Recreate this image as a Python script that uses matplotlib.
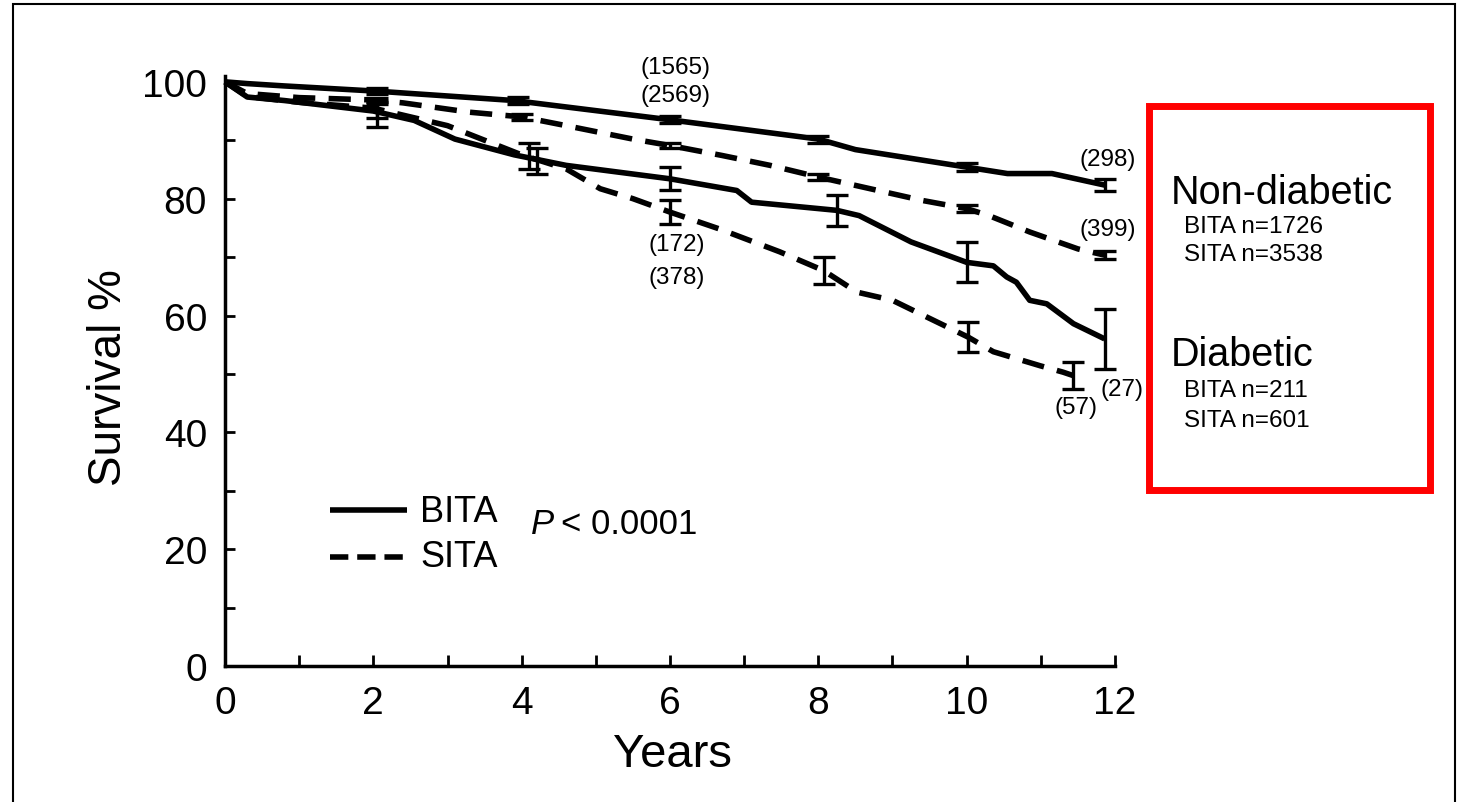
import matplotlib
matplotlib.use("Agg")
import matplotlib.pyplot as plt
from matplotlib.patches import Rectangle
from matplotlib.lines import Line2D

plt.rcParams['font.family'] = ['Liberation Sans', 'DejaVu Sans']

# ---------------- data ----------------
nd_bita_x = [0, 0.3, 0.8, 2.05, 3.9, 6.0, 8.0, 8.5, 10.0, 10.55, 11.15, 11.87]
nd_bita_y = [100, 99.7, 99.3, 98.4, 96.8, 93.5, 90.2, 88.4, 85.4, 84.3, 84.3, 82.3]

nd_sita_x = [0, 0.3, 1.0, 2.0, 2.4, 3.3, 4.0, 4.6, 5.5, 6.0, 6.7, 7.35, 8.0, 8.7, 9.4, 10.0, 10.3, 10.85, 11.5, 11.87]
nd_sita_y = [100, 98.0, 97.3, 96.9, 96.4, 94.8, 94.0, 92.5, 90.2, 89.1, 87.4, 85.7, 83.7, 81.7, 79.7, 78.3, 77.1, 74.3, 71.4, 70.3]

d_bita_x = [0, 0.3, 0.8, 2.0, 2.55, 3.1, 3.9, 4.6, 6.0, 6.9, 7.1, 8.25, 8.55, 9.25, 10.0, 10.36, 10.54, 10.67, 10.85, 11.08, 11.44, 11.86]
d_bita_y = [100, 97.4, 96.8, 95.0, 93.4, 90.2, 87.5, 85.7, 83.4, 81.4, 79.4, 78.0, 77.1, 72.6, 69.1, 68.5, 66.6, 65.7, 62.6, 62.0, 58.6, 56.0]

d_sita_x = [0, 0.3, 1.0, 2.0, 3.0, 4.0, 4.6, 5.06, 5.5, 6.0, 6.67, 7.48, 8.07, 8.52, 9.0, 9.42, 10.02, 10.36, 10.99, 11.3, 11.44]
d_sita_y = [100, 97.5, 96.5, 95.5, 92.5, 87.5, 85.1, 81.7, 80.0, 77.7, 74.8, 70.9, 67.7, 64.0, 62.6, 60.0, 56.3, 53.8, 51.4, 50.3, 49.7]

# error bars
nd_bita_ex = [2.05, 3.95, 6.0, 8.0, 10.0, 11.87]
nd_bita_ey = [98.4, 96.8, 93.5, 90.2, 85.4, 82.3]
nd_bita_ee = [0.5, 0.6, 0.6, 0.6, 0.7, 1.0]

nd_sita_ex = [2.05, 4.0, 6.0, 8.0, 10.0, 11.87]
nd_sita_ey = [96.9, 94.0, 89.1, 83.7, 78.3, 70.3]
nd_sita_ee = [0.4, 0.5, 0.5, 0.5, 0.6, 0.7]

d_bita_ex = [2.05, 4.1, 6.0, 8.25, 10.0, 11.86]
d_bita_ey = [95.0, 87.3, 83.4, 78.0, 69.1, 56.0]
d_bita_ee = [1.2, 2.3, 2.0, 2.7, 3.4, 5.1]

d_sita_ex = [2.05, 4.2, 6.0, 8.07, 10.02, 11.44]
d_sita_ey = [94.5, 86.5, 77.7, 67.7, 56.3, 49.7]
d_sita_ee = [2.2, 2.2, 2.0, 2.3, 2.6, 2.3]

# numbers at risk
risk_labels = ['(1565)', '(2569)', '(172)', '(378)', '(298)', '(399)', '(57)', '(27)']
risk_x = [6.07, 6.08, 6.09, 6.09, 11.9, 11.9, 11.48, 12.09]
risk_y = [102.6, 97.7, 72.3, 66.6, 86.8, 74.8, 44.3, 47.4]

x_ticks_major = [0, 2, 4, 6, 8, 10, 12]
x_ticks_minor = [1, 3, 5, 7, 9, 11]
y_ticks_major = [0, 20, 40, 60, 80, 100]
y_ticks_minor = [10, 30, 50, 70, 90]

box_title1 = 'Non-diabetic'
box_lines1 = ['BITA n=1726', 'SITA n=3538']
box_title2 = 'Diabetic'
box_lines2 = ['BITA n=211', 'SITA n=601']

# ---------------- figure ----------------
W, H = 1461, 803
fig = plt.figure(figsize=(W / 100, H / 100), dpi=100)

def fx(px):
    return px / W

def fy(py):
    return 1 - py / H

ax_left, ax_right, ax_bottom, ax_top = 225, 1115, 667, 77
ax = fig.add_axes([fx(ax_left), fy(ax_bottom), (ax_right - ax_left) / W, (ax_bottom - ax_top) / H])

LW = 4.0
DASH = (0, (4.0, 2.4))
for xs, ys, ls in [(nd_bita_x, nd_bita_y, '-'), (nd_sita_x, nd_sita_y, DASH),
                   (d_bita_x, d_bita_y, '-'), (d_sita_x, d_sita_y, DASH)]:
    ax.plot(xs, ys, color='black', lw=LW, linestyle=ls, solid_capstyle='butt',
            dash_capstyle='butt', clip_on=False)

for ex, ey, ee in [(nd_bita_ex, nd_bita_ey, nd_bita_ee), (nd_sita_ex, nd_sita_ey, nd_sita_ee),
                   (d_bita_ex, d_bita_ey, d_bita_ee), (d_sita_ex, d_sita_ey, d_sita_ee)]:
    ax.errorbar(ex, ey, yerr=ee, fmt='none', ecolor='black', elinewidth=2.4,
                capsize=8, capthick=2.4, clip_on=False)

for lab, x, y in zip(risk_labels, risk_x, risk_y):
    ax.text(x, y, lab, fontsize=17.5, ha='center', va='center', clip_on=False)

ax.set_xlim(0, 12)
ax.set_ylim(0, 101)
ax.set_xticks(x_ticks_major)
ax.set_xticks(x_ticks_minor, minor=True)
ax.set_yticks(y_ticks_major)
ax.set_yticks(y_ticks_minor, minor=True)
ax.tick_params(axis='both', which='both', direction='in', width=2, colors='black')
ax.tick_params(axis='both', which='major', labelsize=28)
ax.tick_params(axis='x', which='both', length=8, pad=14)
ax.tick_params(axis='y', which='both', length=7, pad=13)
for s in ['top', 'right']:
    ax.spines[s].set_visible(False)
for s in ['left', 'bottom']:
    ax.spines[s].set_linewidth(2.5)
ax.patch.set_visible(False)

ax.set_xlabel('Years', fontsize=34)
ax.xaxis.set_label_coords((672 - ax_left) / (ax_right - ax_left), (ax_bottom - 733) / (ax_bottom - ax_top))
ax.set_ylabel('Survival %', fontsize=33)
ax.yaxis.set_label_coords((87 - ax_left) / (ax_right - ax_left), (ax_bottom - 378) / (ax_bottom - ax_top))
ax.yaxis.label.set_va('top')

# legend (manual)
fig.add_artist(Line2D([fx(330), fx(407)], [fy(511), fy(511)], color='black', lw=LW, solid_capstyle='butt'))
fig.add_artist(Line2D([fx(330), fx(407)], [fy(558), fy(558)], color='black', lw=LW,
                      linestyle=(0, (3.3, 1.6)), dash_capstyle='butt'))
fig.text(fx(420), fy(512), 'BITA', fontsize=26, ha='left', va='center')
fig.text(fx(420), fy(558), 'SITA', fontsize=26, ha='left', va='center')
fig.text(fx(531), fy(525), 'P', fontsize=25, style='italic', ha='left', va='center')
fig.text(fx(561), fy(525), '< 0.0001', fontsize=25, ha='left', va='center')

# red box
fig.add_artist(Rectangle((fx(1148.5), fy(490.5)), fx(1430) - fx(1148.5), fy(107) - fy(490.5),
                         fill=False, edgecolor='#ff0000', lw=5.0))
fig.text(fx(1171), fy(193), box_title1, fontsize=28.5, ha='left', va='center')
fig.text(fx(1184), fy(227), box_lines1[0], fontsize=17.5, ha='left', va='center')
fig.text(fx(1184), fy(255), box_lines1[1], fontsize=17.5, ha='left', va='center')
fig.text(fx(1171), fy(355), box_title2, fontsize=28.5, ha='left', va='center')
fig.text(fx(1184), fy(391), box_lines2[0], fontsize=17.5, ha='left', va='center')
fig.text(fx(1184), fy(421), box_lines2[1], fontsize=17.5, ha='left', va='center')

# outer frame
fig.add_artist(Rectangle((fx(13), fy(830)), fx(1455) - fx(13), fy(5) - fy(830),
                         fill=False, edgecolor='black', lw=1.5))

fig.savefig('out.png', dpi=100)
